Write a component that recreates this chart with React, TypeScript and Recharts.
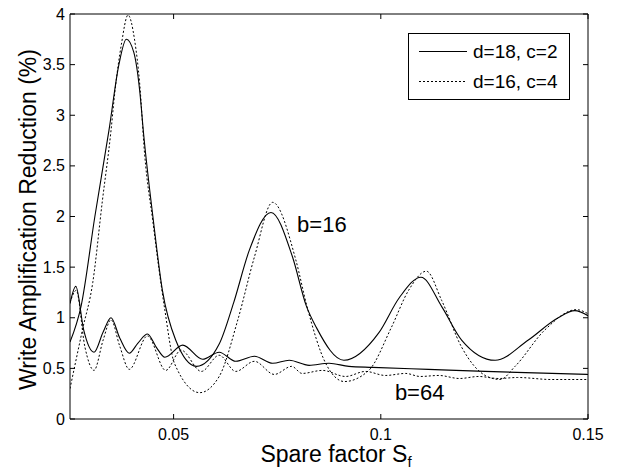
import {
  Legend,
  Line,
  LineChart,
  ReferenceDot,
  XAxis,
  YAxis,
} from "recharts";

const FONT = '"Liberation Sans", Arial, Helvetica, sans-serif';

// x = spare factor, y = write amplification reduction (%)
const b16Solid: [number, number][] = [
  [0.025, 0.76], [0.0277, 1.12], [0.031, 2.0], [0.0344, 2.85], [0.0368, 3.5],
  [0.0386, 3.75], [0.0404, 3.62], [0.0418, 3.25], [0.0428, 2.8], [0.045, 2.0],
  [0.0473, 1.27], [0.0505, 0.78], [0.0555, 0.52], [0.061, 0.74], [0.0645, 1.15],
  [0.0683, 1.67], [0.0735, 2.04], [0.0787, 1.6], [0.082, 1.12], [0.0845, 0.9],
  [0.0911, 0.58], [0.0995, 0.85], [0.1045, 1.2], [0.1097, 1.4], [0.1147, 1.11],
  [0.1195, 0.78], [0.1276, 0.58], [0.1356, 0.78], [0.1428, 1.0], [0.1468, 1.07],
  [0.15, 1.02],
];

const b16Dotted: [number, number][] = [
  [0.025, 0.3], [0.028, 0.88], [0.0305, 1.35], [0.0328, 2.15], [0.0349, 2.85],
  [0.0358, 3.22], [0.0374, 3.7], [0.039, 3.99], [0.0406, 3.74], [0.0418, 3.32],
  [0.043, 2.62], [0.045, 1.95], [0.0465, 1.47], [0.0478, 1.1], [0.0502, 0.55],
  [0.0563, 0.26], [0.061, 0.42], [0.0655, 0.98], [0.0695, 1.6], [0.0739, 2.14],
  [0.0795, 1.57], [0.0822, 1.11], [0.0867, 0.55], [0.0912, 0.37], [0.0971, 0.48],
  [0.1025, 0.9], [0.1067, 1.27], [0.111, 1.46], [0.1147, 1.17], [0.1195, 0.71],
  [0.1252, 0.43], [0.1288, 0.39], [0.1324, 0.52], [0.1396, 0.88], [0.1472, 1.08],
  [0.15, 1.04],
];

const b64Solid: [number, number][] = [
  [0.025, 1.14], [0.0264, 1.31], [0.0283, 0.88], [0.0308, 0.66], [0.033, 0.86],
  [0.0349, 1.0], [0.037, 0.8], [0.0393, 0.65], [0.0414, 0.75], [0.0437, 0.84],
  [0.0458, 0.71], [0.0479, 0.61], [0.0522, 0.73], [0.057, 0.59], [0.061, 0.66],
  [0.065, 0.57], [0.0695, 0.62], [0.0739, 0.55], [0.0779, 0.58], [0.0827, 0.53],
  [0.0875, 0.55], [0.0923, 0.52], [0.098, 0.51], [0.1115, 0.49], [0.1252, 0.47],
  [0.15, 0.44],
];

const b64Dotted: [number, number][] = [
  [0.025, 1.15], [0.0265, 1.27], [0.0286, 0.71], [0.0308, 0.48], [0.033, 0.78],
  [0.0349, 0.98], [0.037, 0.72], [0.0393, 0.49], [0.0437, 0.82], [0.0481, 0.48],
  [0.0518, 0.68], [0.0567, 0.47], [0.061, 0.63], [0.065, 0.47], [0.0695, 0.57],
  [0.0743, 0.44], [0.0785, 0.52], [0.081, 0.45], [0.0859, 0.48], [0.0915, 0.42],
  [0.0963, 0.47], [0.1011, 0.43], [0.106, 0.45], [0.1095, 0.42], [0.114, 0.43],
  [0.119, 0.4], [0.1236, 0.42], [0.1284, 0.4], [0.133, 0.41], [0.1412, 0.39],
  [0.15, 0.39],
];

const xTicks = [0.05, 0.1, 0.15];
const yTicks = [0, 0.5, 1, 1.5, 2, 2.5, 3, 3.5, 4];
const legendNames = ["d=18, c=2", "d=16, c=4"];

const toPoints = (pts: [number, number][]) => pts.map(([x, y]) => ({ x, y }));

const TICK = 5;

// inward MATLAB-style ticks, drawn together with their labels
// eslint-disable-next-line @typescript-eslint/no-explicit-any
function BottomTick({ x, y, payload }: any) {
  return (
    <g>
      <line x1={x} x2={x} y1={y} y2={y - TICK} stroke="#000" strokeWidth={1} />
      <text x={x} y={y + 15} textAnchor="middle" dominantBaseline="central" fontSize={16} fontFamily={FONT} fill="#000">
        {String(payload.value)}
      </text>
    </g>
  );
}

// eslint-disable-next-line @typescript-eslint/no-explicit-any
function TopTick({ x, y }: any) {
  return <line x1={x} x2={x} y1={y} y2={y + TICK} stroke="#000" strokeWidth={1} />;
}

// eslint-disable-next-line @typescript-eslint/no-explicit-any
function LeftTick({ x, y, payload }: any) {
  return (
    <g>
      <line x1={x} x2={x + TICK} y1={y} y2={y} stroke="#000" strokeWidth={1} />
      <text x={x - 5} y={y} textAnchor="end" dominantBaseline="central" fontSize={16} fontFamily={FONT} fill="#000">
        {String(payload.value)}
      </text>
    </g>
  );
}

// eslint-disable-next-line @typescript-eslint/no-explicit-any
function RightTick({ x, y }: any) {
  return <line x1={x} x2={x - TICK} y1={y} y2={y} stroke="#000" strokeWidth={1} />;
}

function LegendBox() {
  return (
    <svg width={162} height={67} style={{ display: "block" }}>
      <rect x={0.5} y={0.5} width={161} height={66} fill="#fff" stroke="#000" />
      <line x1={11} x2={59} y1={18.5} y2={18.5} stroke="#000" strokeWidth={1} />
      <line x1={11} x2={59} y1={48.5} y2={48.5} stroke="#000" strokeWidth={1} strokeDasharray="2 2" />
      <text x={65} y={18.5} dominantBaseline="central" fontSize={19} fontFamily={FONT}>
        {legendNames[0]}
      </text>
      <text x={65} y={48.5} dominantBaseline="central" fontSize={19} fontFamily={FONT}>
        {legendNames[1]}
      </text>
    </svg>
  );
}

// eslint-disable-next-line @typescript-eslint/no-explicit-any
function Annotation({ viewBox, text }: any) {
  if (!viewBox) return null;
  return (
    <text x={viewBox.x} y={viewBox.y} dominantBaseline="central" fontSize={22} fontFamily={FONT} fill="#000">
      {text}
    </text>
  );
}

// eslint-disable-next-line @typescript-eslint/no-explicit-any
function XLabel({ viewBox }: any) {
  if (!viewBox) return null;
  return (
    <text x={viewBox.x + viewBox.width / 2 + 7} y={viewBox.y + 43} textAnchor="middle" fontSize={23} fontFamily={FONT} fill="#000">
      Spare factor S
      <tspan fontSize={15} dy={5}>f</tspan>
    </text>
  );
}

// eslint-disable-next-line @typescript-eslint/no-explicit-any
function YLabel({ viewBox }: any) {
  if (!viewBox) return null;
  const cx = 28;
  const cy = viewBox.y + viewBox.height / 2 + 3;
  return (
    <text x={cx} y={cy} transform={`rotate(-90 ${cx} ${cy})`} textAnchor="middle" dominantBaseline="central" fontSize={23} fontFamily={FONT} fill="#000">
      Write Amplification Reduction (%)
    </text>
  );
}

export default function App() {
  return (
    <div style={{ position: "absolute", left: 0, top: 0, background: "#fff" }}>
      <LineChart width={619} height={470} margin={{ top: 13, right: 30, bottom: 0, left: 0 }}>
        <XAxis
          xAxisId="bottom"
          dataKey="x"
          type="number"
          domain={[0.025, 0.15]}
          ticks={xTicks}
          allowDataOverflow
          height={51}
          stroke="#000"
          tickLine={false}
          tickSize={0}
          tickMargin={0}
          tick={<BottomTick />}
          label={<XLabel />}
        />
        <XAxis
          xAxisId="top"
          orientation="top"
          dataKey="x"
          type="number"
          domain={[0.025, 0.15]}
          ticks={xTicks}
          allowDataOverflow
          height={1}
          stroke="#000"
          tickLine={false}
          tickSize={0}
          tickMargin={0}
          tick={<TopTick />}
        />
        <YAxis
          yAxisId="left"
          type="number"
          domain={[0, 4]}
          ticks={yTicks}
          allowDataOverflow
          width={70}
          stroke="#000"
          tickLine={false}
          tickSize={0}
          tickMargin={0}
          tick={<LeftTick />}
          label={<YLabel />}
        />
        <YAxis
          yAxisId="right"
          orientation="right"
          type="number"
          domain={[0, 4]}
          ticks={yTicks}
          allowDataOverflow
          width={1}
          stroke="#000"
          tickLine={false}
          tickSize={0}
          tickMargin={0}
          tick={<RightTick />}
        />
        <Legend
          layout="vertical"
          align="center"
          verticalAlign="middle"
          wrapperStyle={{ position: "absolute", left: 408, top: 33, width: 162 }}
          content={<LegendBox />}
        />
        <Line xAxisId="bottom" yAxisId="left" data={toPoints(b16Solid)} dataKey="y" name={legendNames[0]} type="monotone" stroke="#000" strokeWidth={1.1} dot={false} activeDot={false} isAnimationActive={false} />
        <Line xAxisId="top" yAxisId="right" data={toPoints(b64Solid)} dataKey="y" name={legendNames[0] + " "} type="monotone" stroke="#000" strokeWidth={1.1} dot={false} activeDot={false} isAnimationActive={false} legendType="none" />
        <Line xAxisId="bottom" yAxisId="left" data={toPoints(b16Dotted)} dataKey="y" name={legendNames[1]} type="monotone" stroke="#000" strokeWidth={1} strokeDasharray="2 2" dot={false} activeDot={false} isAnimationActive={false} />
        <Line xAxisId="top" yAxisId="right" data={toPoints(b64Dotted)} dataKey="y" name={legendNames[1] + " "} type="monotone" stroke="#000" strokeWidth={1} strokeDasharray="2 2" dot={false} activeDot={false} isAnimationActive={false} legendType="none" />
        <ReferenceDot xAxisId="bottom" yAxisId="left" x={0.0798} y={1.92} r={0} fill="none" stroke="none" label={<Annotation text="b=16" />} />
        <ReferenceDot xAxisId="bottom" yAxisId="left" x={0.1034} y={0.257} r={0} fill="none" stroke="none" label={<Annotation text="b=64" />} />
      </LineChart>
    </div>
  );
}
